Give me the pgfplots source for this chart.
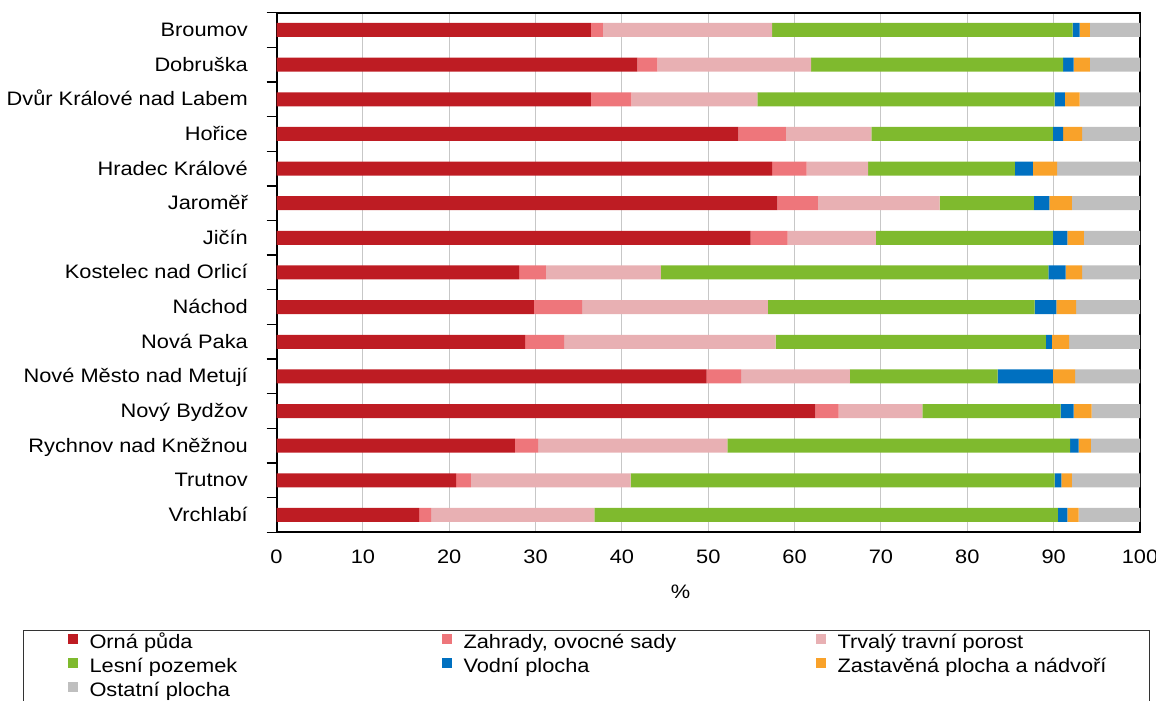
\documentclass[border=0pt]{standalone}
\usepackage{fontspec}
\setmainfont{Liberation Sans}[FakeStretch=1.12]
\usepackage{pgfplots}
\usepackage{pgfplotstable}
\pgfplotsset{compat=1.18}

\definecolor{orna}{HTML}{BE1C23}
\definecolor{zahr}{HTML}{EE767B}
\definecolor{trv}{HTML}{E8B0B3}
\definecolor{les}{HTML}{7FBA2E}
\definecolor{vod}{HTML}{0070C0}
\definecolor{zast}{HTML}{F9A22A}
\definecolor{ost}{HTML}{BFBFBF}

% podíl druhů pozemků (%), řádky odshora dolů
\pgfplotstableread{
idx orna zahr trv  les  vod zast ost
0   36.4 1.4  19.6 34.8 0.8 1.2  5.8
1   41.8 2.3  17.8 29.2 1.2 1.9  5.8
2   36.4 4.7  14.6 34.4 1.2 1.7  7.0
3   53.5 5.5  9.9  21.0 1.2 2.2  6.7
4   57.4 4.0  7.1  17.0 2.1 2.8  9.6
5   58.0 4.7  14.1 10.9 1.8 2.6  7.9
6   54.9 4.3  10.2 20.5 1.7 1.9  6.5
7   28.1 3.1  13.3 44.9 2.0 1.9  6.7
8   29.8 5.6  21.5 30.9 2.5 2.3  7.4
9   28.8 4.5  24.5 31.3 0.7 2.0  8.2
10  49.8 4.0  12.6 17.1 6.4 2.6  7.5
11  62.4 2.7  9.7  16.0 1.5 2.1  5.6
12  27.6 2.7  21.9 39.7 1.0 1.4  5.7
13  20.8 1.7  18.5 49.1 0.8 1.2  7.9
14  16.5 1.4  18.9 53.7 1.1 1.3  7.1
}\data

\newcommand{\lc}[1]{\makebox[264pt][l]{#1}}
\newcommand{\lcc}[1]{\makebox[201pt][l]{#1}}

\begin{document}
\begin{tikzpicture}[font=\fontsize{14.6pt}{17pt}\selectfont]
\begin{axis}[
  scale only axis,
  width=647.6pt, height=389.7pt,
  xbar stacked,
  bar width=10.5pt,
  xmin=0, xmax=100,
  ymin=-0.5, ymax=14.5,
  y dir=reverse,
  xtick={0,10,...,100},
  ytick={0,...,14},
  yticklabels={Broumov,Dobruška,Dvůr Králové nad Labem,Hořice,Hradec Králové,Jaroměř,Jičín,Kostelec nad Orlicí,Náchod,Nová Paka,Nové Město nad Metují,Nový Bydžov,Rychnov nad Kněžnou,Trutnov,Vrchlabí},
  minor ytick={-0.5,0.5,...,14.5},
  major tick length=0pt,
  minor tick length=7.5pt,
  tick align=outside,
  tick pos=left,
  minor tick style={black, line width=1pt},
  xmajorgrids,
  major grid style={color=black!22, line width=0.8pt},
  axis line style={black, line width=1.5pt},
  /pgf/number format/assume math mode=true,
  yticklabel style={xshift=-18pt, text height=13.2pt, text depth=3.5pt},
  xticklabel style={yshift=-9.8pt},
  xlabel={\%},
  xlabel style={at={(axis description cs:0.468,0)}, anchor=center, yshift=-44.8pt},
  legend columns=3,
  legend cell align=left,
  legend image code/.code={\fill[#1,draw=none] (0pt,0pt) rectangle (8pt,7.5pt);},
  legend style={
    at={(axis description cs:-0.2936,-0.188)}, anchor=north west,
    draw=black!80, line width=0.75pt,
    inner xsep=33pt, inner ysep=1pt,
    nodes={inner sep=0pt, text height=12.5pt, text depth=5.5pt},
    /tikz/every odd column/.append style={column sep=8.5pt},
  },
]
\addplot[fill=orna, draw=none] table[x=orna, y=idx] {\data};
\addlegendentry{\lc{Orná půda}}
\addplot[fill=zahr, draw=none] table[x=zahr, y=idx] {\data};
\addlegendentry{\lc{Zahrady, ovocné sady}}
\addplot[fill=trv, draw=none] table[x=trv, y=idx] {\data};
\addlegendentry{\lcc{Trvalý travní porost}}
\addplot[fill=les, draw=none] table[x=les, y=idx] {\data};
\addlegendentry{\lc{Lesní pozemek}}
\addplot[fill=vod, draw=none] table[x=vod, y=idx] {\data};
\addlegendentry{\lc{Vodní plocha}}
\addplot[fill=zast, draw=none] table[x=zast, y=idx] {\data};
\addlegendentry{\lcc{Zastavěná plocha a nádvoří}}
\addplot[fill=ost, draw=none] table[x=ost, y=idx] {\data};
\addlegendentry{\lc{Ostatní plocha}}
\coordinate (bl) at (axis description cs:0,0);
\coordinate (tr) at (axis description cs:1,1);
\end{axis}
\pgfresetboundingbox
\path[use as bounding box] ([shift={(-207.4pt,-125.8pt)}]bl) rectangle ([shift={(12pt,9.5pt)}]tr);
\end{tikzpicture}
\end{document}
